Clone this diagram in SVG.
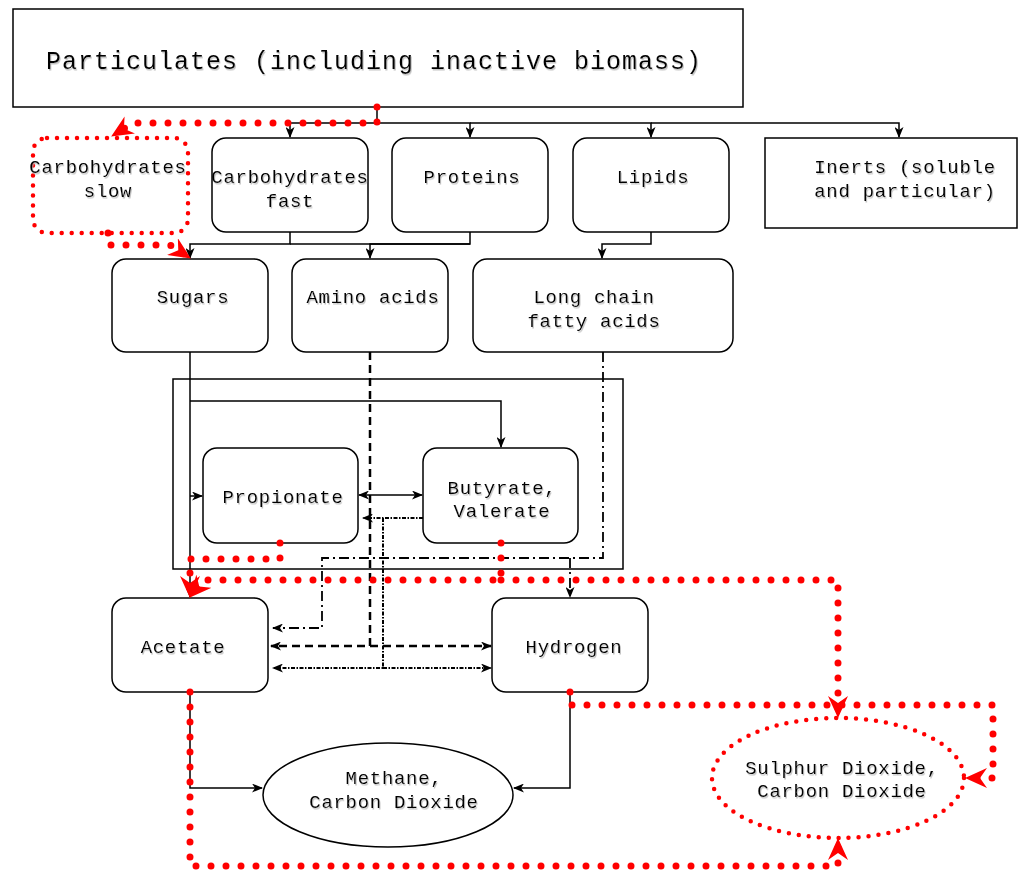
<svg xmlns="http://www.w3.org/2000/svg" width="1019" height="871" viewBox="0 0 1019 871">
<style>
.box{fill:#fff;stroke:#000;stroke-width:1.5}
.rbox{fill:#fff;stroke:red;stroke-width:4.5;stroke-dasharray:0 10;stroke-linecap:round}
text{font-family:"Liberation Mono","DejaVu Sans Mono",monospace;font-size:19px;letter-spacing:0.7px;fill:#000;text-anchor:middle;filter:url(#sh)}
text.title{font-size:25px;letter-spacing:1px}
.ln{fill:none;stroke:#000;stroke-width:1.5}
.dash{fill:none;stroke:#000;stroke-width:2.5;stroke-dasharray:8 5}
.dd{fill:none;stroke:#000;stroke-width:1.8;stroke-dasharray:10 4 2 4}
.dot{fill:none;stroke:#000;stroke-width:2;stroke-dasharray:4 1.5 1.5 1.5}
.red{fill:none;stroke:red;stroke-width:7;stroke-dasharray:0 15;stroke-linecap:round}
</style>
<defs>
<filter id="sh" x="-5%" y="-20%" width="110%" height="140%">
<feDropShadow dx="1" dy="1.5" stdDeviation="0.5" flood-color="#aaa" flood-opacity="0.7"/>
</filter>
<marker id="a" markerWidth="11" markerHeight="9" refX="10" refY="4.5" orient="auto-start-reverse" markerUnits="userSpaceOnUse">
<path d="M0,0 L11,4.5 L0,9 L3,4.5 z" fill="#000"/>
</marker>
<marker id="ra" markerWidth="22" markerHeight="20" refX="21" refY="10" orient="auto" markerUnits="userSpaceOnUse">
<path d="M0,0 L22,10 L0,20 L7,10 z" fill="red"/>
</marker>
</defs>

<g id="particulates"><rect class="box" x="13" y="9" width="730" height="98"/><text class="title" x="374" y="69">Particulates (including inactive biomass)</text></g>
<g id="carb-slow"><rect class="rbox" x="33" y="138" width="155" height="95" rx="14"/><text x="108" y="173">Carbohydrates</text><text x="108" y="197">slow</text></g>
<g id="carb-fast"><rect class="box" x="212" y="138" width="156" height="94" rx="14"/><text x="290" y="183">Carbohydrates</text><text x="290" y="207">fast</text></g>
<g id="proteins"><rect class="box" x="392" y="138" width="156" height="94" rx="14"/><text x="472" y="183">Proteins</text></g>
<g id="lipids"><rect class="box" x="573" y="138" width="156" height="94" rx="14"/><text x="653" y="183">Lipids</text></g>
<g id="inerts"><rect class="box" x="765" y="138" width="252" height="90"/><text x="905" y="173">Inerts (soluble</text><text x="905" y="197">and particular)</text></g>
<g id="sugars"><rect class="box" x="112" y="259" width="156" height="93" rx="14"/><text x="193" y="303">Sugars</text></g>
<g id="amino"><rect class="box" x="292" y="259" width="156" height="93" rx="14"/><text x="373" y="303">Amino acids</text></g>
<g id="lcfa"><rect class="box" x="473" y="259" width="260" height="93" rx="14"/><text x="594" y="303">Long chain</text><text x="594" y="327">fatty acids</text></g>
<g id="container"><rect x="173" y="379" width="450" height="190" fill="none" stroke="#000" stroke-width="1.5"/></g>
<g id="propionate"><rect class="box" x="203" y="448" width="155" height="95" rx="14"/><text x="283" y="503">Propionate</text></g>
<g id="butyrate"><rect class="box" x="423" y="448" width="155" height="95" rx="14"/><text x="502" y="494">Butyrate,</text><text x="502" y="517">Valerate</text></g>
<g id="acetate"><rect class="box" x="112" y="598" width="156" height="94" rx="14"/><text x="183" y="653">Acetate</text></g>
<g id="hydrogen"><rect class="box" x="492" y="598" width="156" height="94" rx="14"/><text x="574" y="653">Hydrogen</text></g>
<g id="methane"><ellipse cx="388" cy="795" rx="125" ry="52" fill="#fff" stroke="#000" stroke-width="1.5"/><text x="394" y="784">Methane,</text><text x="394" y="808">Carbon Dioxide</text></g>
<g id="sulphur"><ellipse class="rbox" cx="838" cy="778" rx="126" ry="60"/><text x="842" y="774">Sulphur Dioxide,</text><text x="842" y="797">Carbon Dioxide</text></g>

<g id="connectors">
<path class="ln" d="M377,107 V123 H290 V137" marker-end="url(#a)"/>
<path class="ln" d="M377,123 H470 V137" marker-end="url(#a)"/>
<path class="ln" d="M470,123 H651 V137" marker-end="url(#a)"/>
<path class="ln" d="M651,123 H899 V137" marker-end="url(#a)"/>
<path class="ln" d="M290,232 V244 H190 V258" marker-end="url(#a)"/>
<path class="ln" d="M470,232 V244 H370 V258" marker-end="url(#a)"/>
<path class="ln" d="M651,232 V244 H602 V258" marker-end="url(#a)"/>
<path class="ln" d="M290,244 H470"/>
<path class="ln" d="M190,352 V597" marker-end="url(#a)"/>
<path class="ln" d="M190,401 H501 V447" marker-end="url(#a)"/>
<path class="ln" d="M190,496 H202" marker-end="url(#a)"/>
<path class="ln" d="M359,495 H422" marker-start="url(#a)" marker-end="url(#a)"/>
<path class="dot" d="M423,518 H363" marker-end="url(#a)"/>
<path class="dot" d="M383,518 V668 H273" marker-end="url(#a)"/>
<path class="dot" d="M383,668 H491" marker-end="url(#a)"/>
<path class="dash" d="M370,352 V646 H271" marker-end="url(#a)"/>
<path class="dash" d="M370,646 H491" marker-end="url(#a)"/>
<path class="dd" d="M603,352 V558 H322 V628 H273" marker-end="url(#a)"/>
<path class="dd" d="M570,558 V597" marker-end="url(#a)"/>
<path class="ln" d="M190,692 V788 H262" marker-end="url(#a)"/>
<path class="ln" d="M570,692 V788 H514" marker-end="url(#a)"/>

<path class="red" d="M377,107 V123 H133 L112,136" marker-end="url(#ra)"/>
<path class="red" d="M108,233 V245 H170 L190,258" marker-end="url(#ra)"/>
<path class="red" d="M280,543 V559 H190 V597" marker-end="url(#ra)"/>
<path class="red" d="M501,543 V580 H205 L190,597" marker-end="url(#ra)"/>
<path class="red" d="M501,580 H838 V717" marker-end="url(#ra)"/>
<path class="red" d="M570,692 V705 H993 V778 H966" marker-end="url(#ra)"/>
<path class="red" d="M190,692 V866 H838 V839" marker-end="url(#ra)"/>
</g>
</svg>
